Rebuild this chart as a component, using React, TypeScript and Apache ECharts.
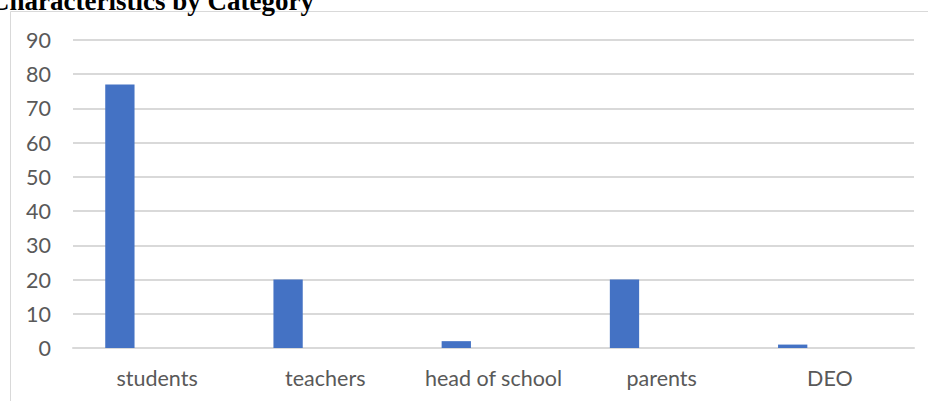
import React, { useEffect, useRef } from "react";
import * as echarts from "echarts";

const categories = ["students", "teachers", "head of school", "parents", "DEO"];
const series1 = [77, 20, 2, 20, 1];
const series2: (number | string)[] = ["-", "-", "-", "-", "-"];
const series3: (number | string)[] = ["-", "-", "-", "-", "-"];
const titleText = "Characteristics by Category";

export default function App() {
  const ref = useRef<HTMLDivElement>(null);
  useEffect(() => {
    if (!ref.current) return;
    const chart = echarts.init(ref.current, null, { renderer: "svg" });
    const labelFont = "Lato, Carlito, Calibri, sans-serif";
    chart.setOption({
      animation: false,
      backgroundColor: "#ffffff",
      grid: { left: 73, right: 14, top: 40, bottom: 53, containLabel: false },
      xAxis: {
        type: "category",
        data: categories,
        axisLine: { show: true, lineStyle: { color: "#d9d9d9", width: 2 } },
        axisTick: { show: false },
        axisLabel: {
          color: "#595959",
          fontSize: 21.5,
          fontFamily: labelFont,
          margin: 19,
          interval: 0,
          hideOverlap: false,
        },
        splitLine: { show: false },
      },
      yAxis: {
        type: "value",
        min: 0,
        max: 90,
        interval: 10,
        axisLine: { show: false },
        axisTick: { show: false },
        axisLabel: { color: "#595959", fontSize: 21.5, fontFamily: labelFont, margin: 22 },
        splitLine: { show: true, lineStyle: { color: "#d9d9d9", width: 2 } },
      },
      series: [
        { type: "bar", data: series1, barWidth: 29.3, barGap: "27%", itemStyle: { color: "#4472C4" } },
        { type: "bar", data: series2, barWidth: 29.3, barGap: "27%", itemStyle: { color: "#ED7D31" } },
        { type: "bar", data: series3, barWidth: 29.3, barGap: "27%", itemStyle: { color: "#A5A5A5" } },
      ],
      graphic: [
        {
          type: "rect",
          silent: true,
          z: -1,
          shape: { x: 10.5, y: 11.5, width: 1000, height: 500 },
          style: { fill: "none", stroke: "#d9d9d9", lineWidth: 1 },
        },
        {
          type: "text",
          x: -10,
          y: 1,
          style: {
            text: titleText,
            font: "bold 27px 'Liberation Serif', 'Times New Roman', serif",
            fill: "#000000",
            verticalAlign: "middle",
            align: "left",
          },
        },
      ],
    });
    return () => chart.dispose();
  }, []);
  return (
    <div
      ref={ref}
      style={{ position: "fixed", left: 0, top: 0, width: 928, height: 401 }}
    />
  );
}
